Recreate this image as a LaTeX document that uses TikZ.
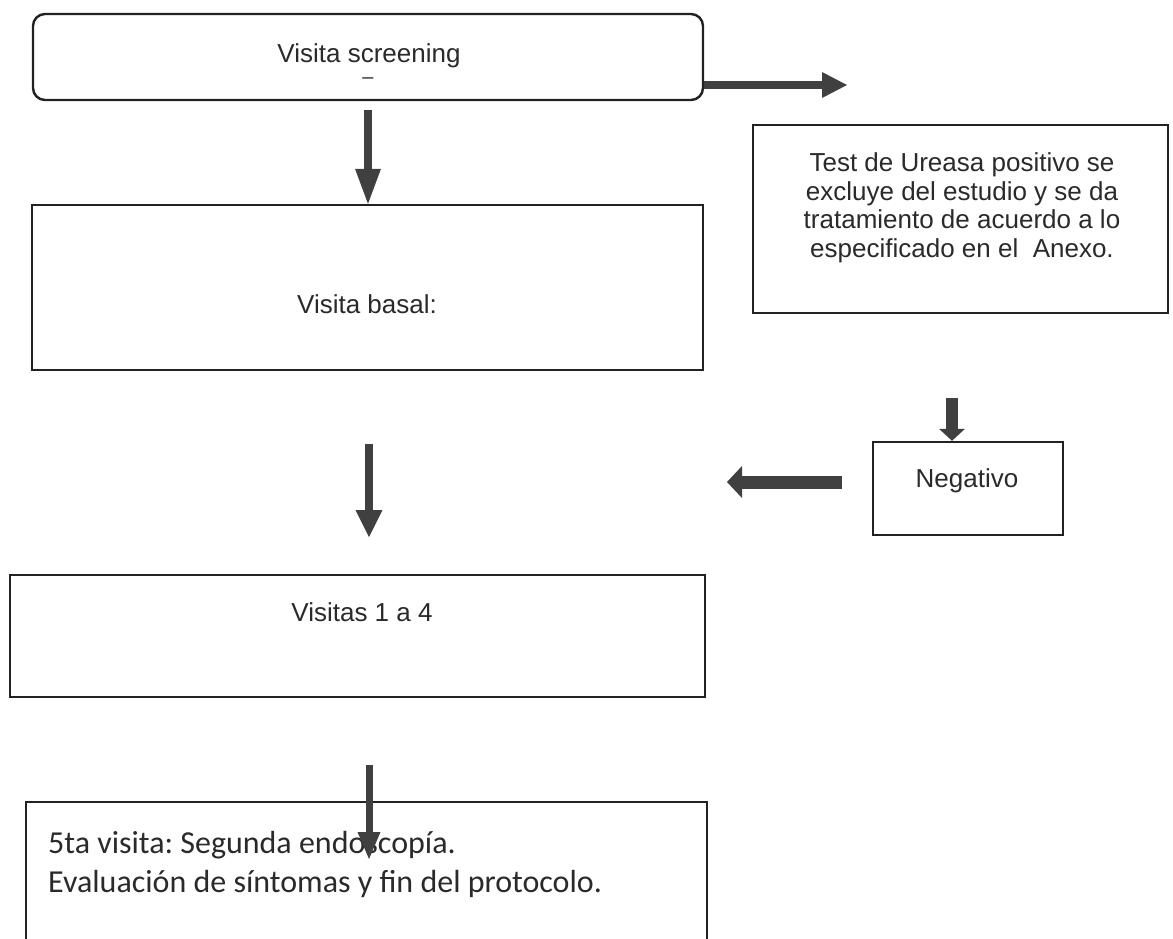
\documentclass[tikz,border=0pt]{standalone}
\usepackage{fontspec}
\setmainfont{Liberation Sans}
\newfontfamily\calib{Carlito}
\usetikzlibrary{arrows.meta}
\definecolor{boxline}{HTML}{222222}
\definecolor{arrowcol}{HTML}{404040}
\definecolor{txt}{HTML}{2A2A2A}
\frenchspacing
\begin{document}
\begin{tikzpicture}[x=1pt,y=-1pt,
  box/.style={draw=boxline, line width=2.4pt, fill=white, inner sep=0pt},
  lbl/.style={inner sep=0pt, anchor=base, text=txt, font=\fontsize{26}{28.5}\selectfont},
  cal/.style={inner sep=0pt, anchor=base west, text=txt, font=\calib\fontsize{32}{38}\selectfont},
  fat/.style={draw=arrowcol, line width=#1, line cap=butt},
]
\useasboundingbox (0,0) rectangle (1173,938);
\clip (0,0) rectangle (1173,938);

% boxes
\node[box, rounded corners=12pt, minimum width=670pt, minimum height=86pt] (top) at (368,57) {};
\node[box, minimum width=671pt, minimum height=165pt] (basal) at (367.5,287.5) {};
\node[box, minimum width=415pt, minimum height=188pt] (ureasa) at (960.5,219) {};
\node[box, minimum width=190pt, minimum height=93pt] (neg) at (968,488.5) {};
\node[box, minimum width=695pt, minimum height=122pt] (visitas) at (357.5,636) {};
\node[box, minimum width=681pt, minimum height=180pt] (fifth) at (366.5,892) {};

% texts
\node[lbl] (tscreen) at (369,62) {Visita screening};
\node[lbl, font=\fontsize{20}{22}\selectfont] (tdash) at (368,83) {–};
\node[lbl] (tbasal) at (367,313) {Visita basal:};
\node[lbl, anchor=center, align=center] (tureasa) at (962,208) {Test de Ureasa positivo se\\excluye del estudio y se da\\tratamiento de acuerdo a lo\\especificado en el\ \ Anexo.};
\node[lbl] (tneg) at (967,487) {Negativo};
\node[lbl] (tvisitas) at (362,621) {Visitas 1 a 4};
\node[cal] (tfifth1) at (48,853) {5ta visita: Segunda endoscopía.};
\node[cal] (tfifth2) at (48,892) {Evaluación de síntomas y fin del protocolo.};

% arrow end points
\coordinate (a1s) at (368,110);
\coordinate (a2e) at (847,85);
\coordinate (a3s) at (952,398);
\coordinate (a4s) at (842,482);
\coordinate (a4e) at (727,482);
\coordinate (a5s) at (369,444);
\coordinate (a5e) at (369,537);
\coordinate (a6s) at (369,765);
\coordinate (a6e) at (369,859);

% arrows
\draw[fat=8pt, -{Triangle[length=35pt,width=26pt,line width=0pt]}] (a1s) -- (a1s |- basal.north);
\draw[fat=8pt, -{Triangle[length=25pt,width=26pt,line width=0pt]}] (top.east |- a2e) -- (a2e);
\draw[fat=12pt, -{Triangle[length=12pt,width=26pt,line width=0pt]}] (a3s) -- (a3s |- neg.north);
\draw[fat=13pt, -{Triangle[length=15pt,width=32pt,line width=0pt]}] (a4s) -- (a4e);
\draw[fat=8pt, -{Triangle[length=27pt,width=27pt,line width=0pt]}] (a5s) -- (a5e);
\draw[fat=7pt, -{Triangle[length=27pt,width=23pt,line width=0pt]}] (a6s) -- (a6e);
\end{tikzpicture}
\end{document}
